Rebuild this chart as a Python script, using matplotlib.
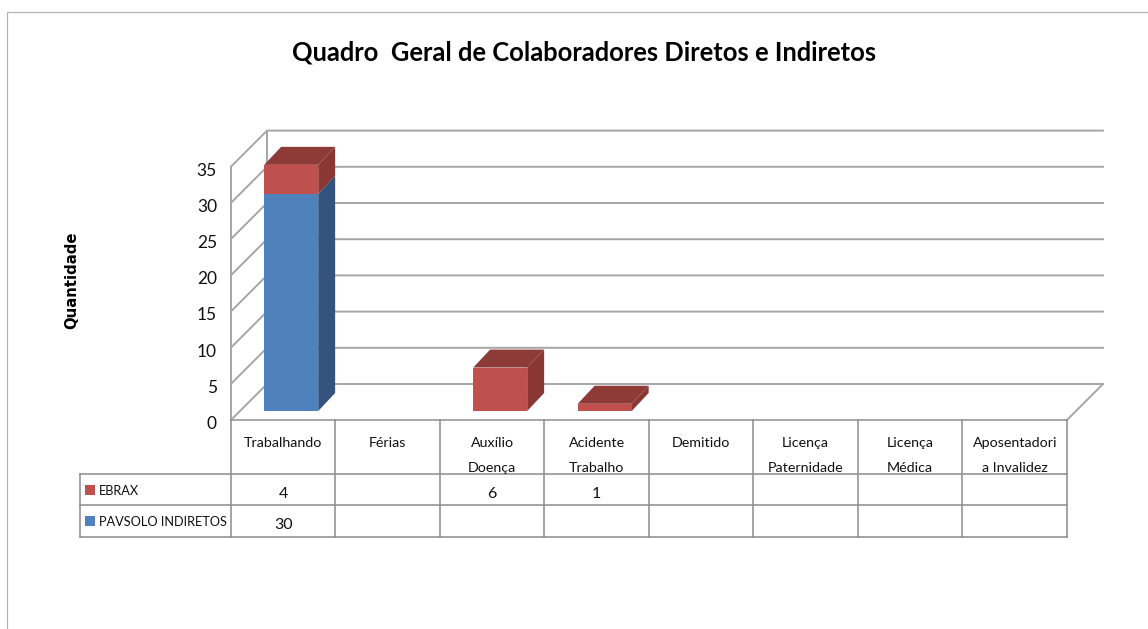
import matplotlib
matplotlib.use("Agg")
import matplotlib.pyplot as plt
from matplotlib.lines import Line2D
from matplotlib.patches import Polygon, Rectangle

categories = ["Trabalhando", "Férias", "Auxílio\nDoença", "Acidente\nTrabalho", "Demitido",
              "Licença\nPaternidade", "Licença\nMédica", "Aposentadori\na Invalidez"]
pavsolo = [30, 0, 0, 0, 0, 0, 0, 0]
ebrax = [4, 0, 6, 1, 0, 0, 0, 0]
yticks = [0, 5, 10, 15, 20, 25, 30, 35]

W, H = 1148, 629
X0, Y0 = 231, 420      # front-left corner of the floor, in pixels
CAT_W = 104.5
UNIT = 7.24            # pixels per unit of quantity
DX = 36 / CAT_W        # depth offset of the back wall, in data units
DY = 36 / UNIT
GRID = "#a6a6a6"
FONT = ["Lato", "DejaVu Sans"]
INK = "#111111"

fig = plt.figure(figsize=(W / 100, H / 100), dpi=100, facecolor="white")
ax = fig.add_axes([0, 0, 1, 1])
ax.set_xlim(-X0 / CAT_W, (W - X0) / CAT_W)
ax.set_ylim((Y0 - H) / UNIT, Y0 / UNIT)
ax.axis("off")

n = len(categories)
top = yticks[-1]


def yshift(px):
    return -px / UNIT


# outer chart frame
fig.add_artist(Line2D([7 / W, 7 / W, 1], [0, 1 - 12 / H, 1 - 12 / H], color="#b4b4b4", lw=0.9))

# walls and floor
for v in yticks:
    ax.plot([0, DX, n + DX], [v, v + DY, v + DY], color=GRID, lw=1.4, zorder=1, solid_joinstyle="miter")
ax.plot([n + DX, n, 0], [DY, 0, 0], color=GRID, lw=1.4, zorder=1)
ax.plot([0, 0], [0, top], color=GRID, lw=1.4, zorder=1)
ax.plot([DX, DX], [DY, top + DY], color=GRID, lw=1.4, zorder=1)


def box(i, lo, hi, front, side, roof=None):
    # the bar stands a quarter of the way into the floor depth
    w = 0.517
    ox, oy = DX / 4 - 0.01, DY / 4
    dx, dy = DX * 0.47, DY * 0.5
    x0 = i + 0.5 + ox - w / 2
    x1 = x0 + w
    y0, y1 = lo + oy, hi + oy
    ax.add_patch(Polygon([(x1, y0), (x1, y1), (x1 + dx, y1 + dy), (x1 + dx, y0 + dy)],
                         facecolor=side, edgecolor="none", zorder=3))
    ax.add_patch(Rectangle((x0, y0), w, y1 - y0, facecolor=front, edgecolor="none", zorder=4))
    if roof:
        ax.add_patch(Polygon([(x0, y1), (x1, y1), (x1 + dx, y1 + dy), (x0 + dx, y1 + dy)],
                             facecolor=roof, edgecolor="none", zorder=4))


for i in range(n):
    if pavsolo[i]:
        box(i, 0, pavsolo[i], "#4f81bd", "#33527e", None if ebrax[i] else "#3a5f8f")
    if ebrax[i]:
        box(i, pavsolo[i], pavsolo[i] + ebrax[i], "#c0504d", "#8a3633", "#8e3a37")

# y axis labels
for v in yticks:
    ax.text(-14 / CAT_W, v + yshift(4), str(v), ha="right", va="center", fontsize=12.5, family=FONT, color=INK)
ax.text(-159 / CAT_W, 140 / UNIT, "Quantidade", rotation=90, ha="center", va="center",
        fontsize=10.7, fontweight="bold", family="DejaVu Sans", color="black")

# data table
row1, row2, row3 = yshift(54), yshift(85), yshift(117)
left = -151 / CAT_W
for i in range(n + 1):
    ax.plot([i, i], [0, row3], color="#8c8c8c", lw=1.1, zorder=2)
ax.plot([left, left], [row1, row3], color="#8c8c8c", lw=1.1, zorder=2)
for r in [row1, row2, row3]:
    ax.plot([left, n], [r, r], color="#8c8c8c", lw=1.1, zorder=2)

for i, c in enumerate(categories):
    lines = c.split("\n")
    ax.text(i + 0.5, yshift(23), lines[0], ha="center", va="center", fontsize=10.3, family=FONT, color=INK)
    if len(lines) > 1:
        ax.text(i + 0.5, yshift(48), lines[1], ha="center", va="center", fontsize=10.3, family=FONT, color=INK)
    if ebrax[i]:
        ax.text(i + 0.5, yshift(74), str(ebrax[i]), ha="center", va="center", fontsize=11.5, family=FONT, color=INK)
    if pavsolo[i]:
        ax.text(i + 0.5, yshift(105), str(pavsolo[i]), ha="center", va="center", fontsize=11.5, family=FONT, color=INK)

# legend keys live in the table
for name, color, r in [("EBRAX", "#c0504d", 75), ("PAVSOLO INDIRETOS", "#4f81bd", 106)]:
    ax.add_patch(Rectangle((-146 / CAT_W, yshift(r)), 10 / CAT_W, 10.5 / UNIT, facecolor=color, edgecolor="none", zorder=3))
    ax.text(-132 / CAT_W, yshift(r - 4), name, ha="left", va="center", fontsize=9.2, family=FONT, color=INK)

fig.text(584 / W, 1 - 52 / H, "Quadro  Geral de Colaboradores Diretos e Indiretos", ha="center", va="center",
         fontsize=18.4, fontweight="bold", family=FONT, color="black")

fig.savefig("out.png", dpi=100, facecolor="white")
